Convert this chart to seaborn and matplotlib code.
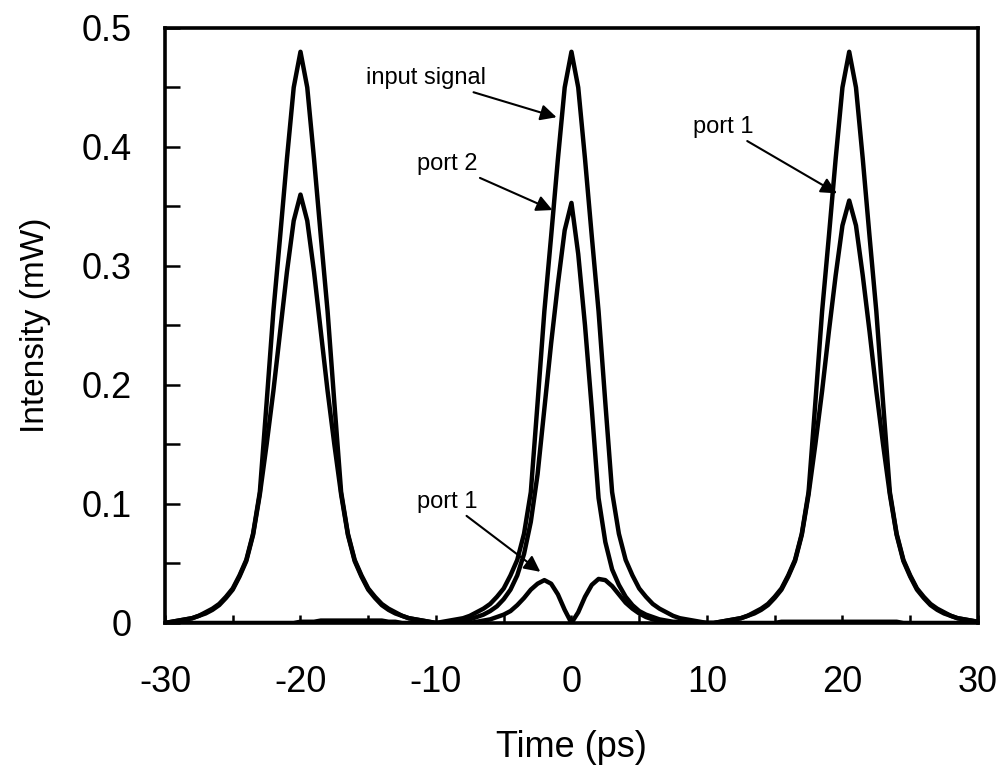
import numpy as np
import pandas as pd
import matplotlib
matplotlib.use('Agg')
import matplotlib.pyplot as plt
import seaborn as sns

# Time axis (ps), 0.5 ps step
time_ps = np.arange(-30, 30.25, 0.5)

# Intensities (mW)
input_signal = [
    0.000, 0.001, 0.002, 0.003, 0.004, 0.006, 0.009, 0.012, 0.016, 0.022,
    0.029, 0.040, 0.053, 0.075, 0.110, 0.185, 0.262, 0.325, 0.390, 0.450,
    0.480, 0.450, 0.390, 0.325, 0.262, 0.185, 0.110, 0.075, 0.053, 0.040,
    0.029, 0.022, 0.016, 0.012, 0.009, 0.006, 0.004, 0.003, 0.002, 0.001,
    0.000,
    0.001, 0.002, 0.003, 0.004, 0.006, 0.009, 0.012, 0.016, 0.022, 0.029,
    0.040, 0.053, 0.075, 0.110, 0.185, 0.262, 0.325, 0.390, 0.450, 0.480,
    0.450, 0.390, 0.325, 0.262, 0.185, 0.110, 0.075, 0.053, 0.040, 0.029,
    0.022, 0.016, 0.012, 0.009, 0.006, 0.004, 0.003, 0.002, 0.001, 0.000,
    0.000, 0.001, 0.002, 0.003, 0.004, 0.006, 0.009, 0.012, 0.016, 0.022,
    0.029, 0.040, 0.053, 0.075, 0.110, 0.185, 0.262, 0.325, 0.390, 0.450,
    0.480, 0.450, 0.390, 0.325, 0.262, 0.185, 0.110, 0.075, 0.053, 0.040,
    0.029, 0.022, 0.016, 0.012, 0.009, 0.006, 0.004, 0.003, 0.002, 0.001,
]

port_2 = [
    0.000, 0.001, 0.002, 0.003, 0.004, 0.006, 0.008, 0.011, 0.015, 0.021,
    0.028, 0.039, 0.052, 0.074, 0.108, 0.150, 0.195, 0.245, 0.295, 0.338,
    0.360, 0.338, 0.295, 0.245, 0.195, 0.150, 0.108, 0.074, 0.052, 0.039,
    0.028, 0.021, 0.015, 0.011, 0.008, 0.006, 0.004, 0.003, 0.002, 0.001,
    0.000,
    0.000, 0.001, 0.001, 0.002, 0.003, 0.005, 0.007, 0.010, 0.014, 0.020,
    0.028, 0.040, 0.058, 0.085, 0.125, 0.180, 0.235, 0.285, 0.330, 0.353,
    0.310, 0.250, 0.180, 0.105, 0.068, 0.045, 0.032, 0.022, 0.015, 0.010,
    0.007, 0.005, 0.003, 0.002, 0.001, 0.001, 0.000, 0.000, 0.000, 0.000,
    0.000, 0.000, 0.000, 0.000, 0.000, 0.000, 0.000, 0.000, 0.000, 0.000,
    0.001, 0.001, 0.001, 0.001, 0.001, 0.001, 0.001, 0.001, 0.001, 0.001,
    0.001, 0.001, 0.001, 0.001, 0.001, 0.001, 0.001, 0.001, 0.000, 0.000,
    0.000, 0.000, 0.000, 0.000, 0.000, 0.000, 0.000, 0.000, 0.000, 0.000,
]

port_1 = [
    0.000, 0.000, 0.000, 0.000, 0.000, 0.000, 0.000, 0.000, 0.000, 0.000,
    0.000, 0.000, 0.000, 0.000, 0.000, 0.000, 0.000, 0.000, 0.000, 0.000,
    0.001, 0.001, 0.001, 0.002, 0.002, 0.002, 0.002, 0.002, 0.002, 0.002,
    0.002, 0.002, 0.002, 0.001, 0.001, 0.000, 0.000, 0.000, 0.000, 0.000,
    0.000,
    0.000, 0.000, 0.000, 0.000, 0.000, 0.001, 0.002, 0.003, 0.005, 0.007,
    0.010, 0.015, 0.021, 0.028, 0.033, 0.036, 0.033, 0.024, 0.011, 0.000,
    0.009, 0.022, 0.032, 0.037, 0.036, 0.031, 0.024, 0.017, 0.012, 0.008,
    0.005, 0.003, 0.002, 0.001, 0.000, 0.000, 0.000, 0.000, 0.000, 0.000,
    0.000, 0.001, 0.002, 0.003, 0.004, 0.006, 0.008, 0.011, 0.015, 0.021,
    0.028, 0.039, 0.052, 0.074, 0.108, 0.150, 0.195, 0.245, 0.292, 0.334,
    0.355, 0.334, 0.292, 0.245, 0.195, 0.150, 0.108, 0.074, 0.052, 0.039,
    0.028, 0.021, 0.015, 0.011, 0.008, 0.006, 0.004, 0.003, 0.002, 0.001,
]

x_ticks = [-30, -20, -10, 0, 10, 20, 30]
x_labels = ['-30', '-20', '-10', '0', '10', '20', '30']
y_ticks = [0, 0.1, 0.2, 0.3, 0.4, 0.5]
y_labels = ['0', '0.1', '0.2', '0.3', '0.4', '0.5']

df = pd.DataFrame({'t': time_ps, 'input signal': input_signal,
                   'port 2': port_2, 'port 1': port_1})

sns.set_style('ticks')
plt.rcParams['font.family'] = ['Liberation Sans', 'DejaVu Sans']
plt.rcParams['text.color'] = 'black'
plt.rcParams['axes.labelcolor'] = 'black'
plt.rcParams['xtick.color'] = 'black'
plt.rcParams['ytick.color'] = 'black'

fig = plt.figure(figsize=(10.03, 7.71), dpi=100)
ax = fig.add_axes([0.1645, 0.192, 0.8105, 0.7717])

for col in ['input signal', 'port 2', 'port 1']:
    sns.lineplot(data=df, x='t', y=col, ax=ax, color='black', lw=3.2)

ax.set_xlim(-30, 30)
ax.set_ylim(0, 0.5)
ax.set_xticks(x_ticks)
ax.set_xticklabels(x_labels)
ax.set_yticks(y_ticks)
ax.set_yticklabels(y_labels)
ax.set_xticks(np.arange(-25, 30, 10), minor=True)
ax.set_yticks(np.arange(0.05, 0.5, 0.1), minor=True)

ax.tick_params(axis='x', which='both', direction='in', length=6, width=1.8,
               labelsize=26, pad=30)
ax.tick_params(axis='y', which='both', direction='in', length=11, width=1.8,
               labelsize=26, pad=24)
for s in ax.spines.values():
    s.set_linewidth(2.6)
    s.set_color('black')

ax.set_xlabel('Time (ps)', fontsize=26, labelpad=22)
ax.set_ylabel('Intensity (mW)', fontsize=24, labelpad=22)

arrow = dict(arrowstyle='-|>', color='black', lw=1.5, mutation_scale=24,
             shrinkA=0, shrinkB=0)
ax.annotate('input signal', xy=(-1.1, 0.425), xytext=(-6.3, 0.458),
            fontsize=17, ha='right', va='center', arrowprops=arrow)
ax.annotate('port 2', xy=(-1.4, 0.347), xytext=(-6.9, 0.386),
            fontsize=17, ha='right', va='center', arrowprops=arrow)
ax.annotate('port 1', xy=(19.6, 0.361), xytext=(13.4, 0.417),
            fontsize=17, ha='right', va='center', arrowprops=arrow)
ax.annotate('port 1', xy=(-2.3, 0.043), xytext=(-6.9, 0.102),
            fontsize=17, ha='right', va='center', arrowprops=arrow)

fig.savefig('out.png', dpi=100)
